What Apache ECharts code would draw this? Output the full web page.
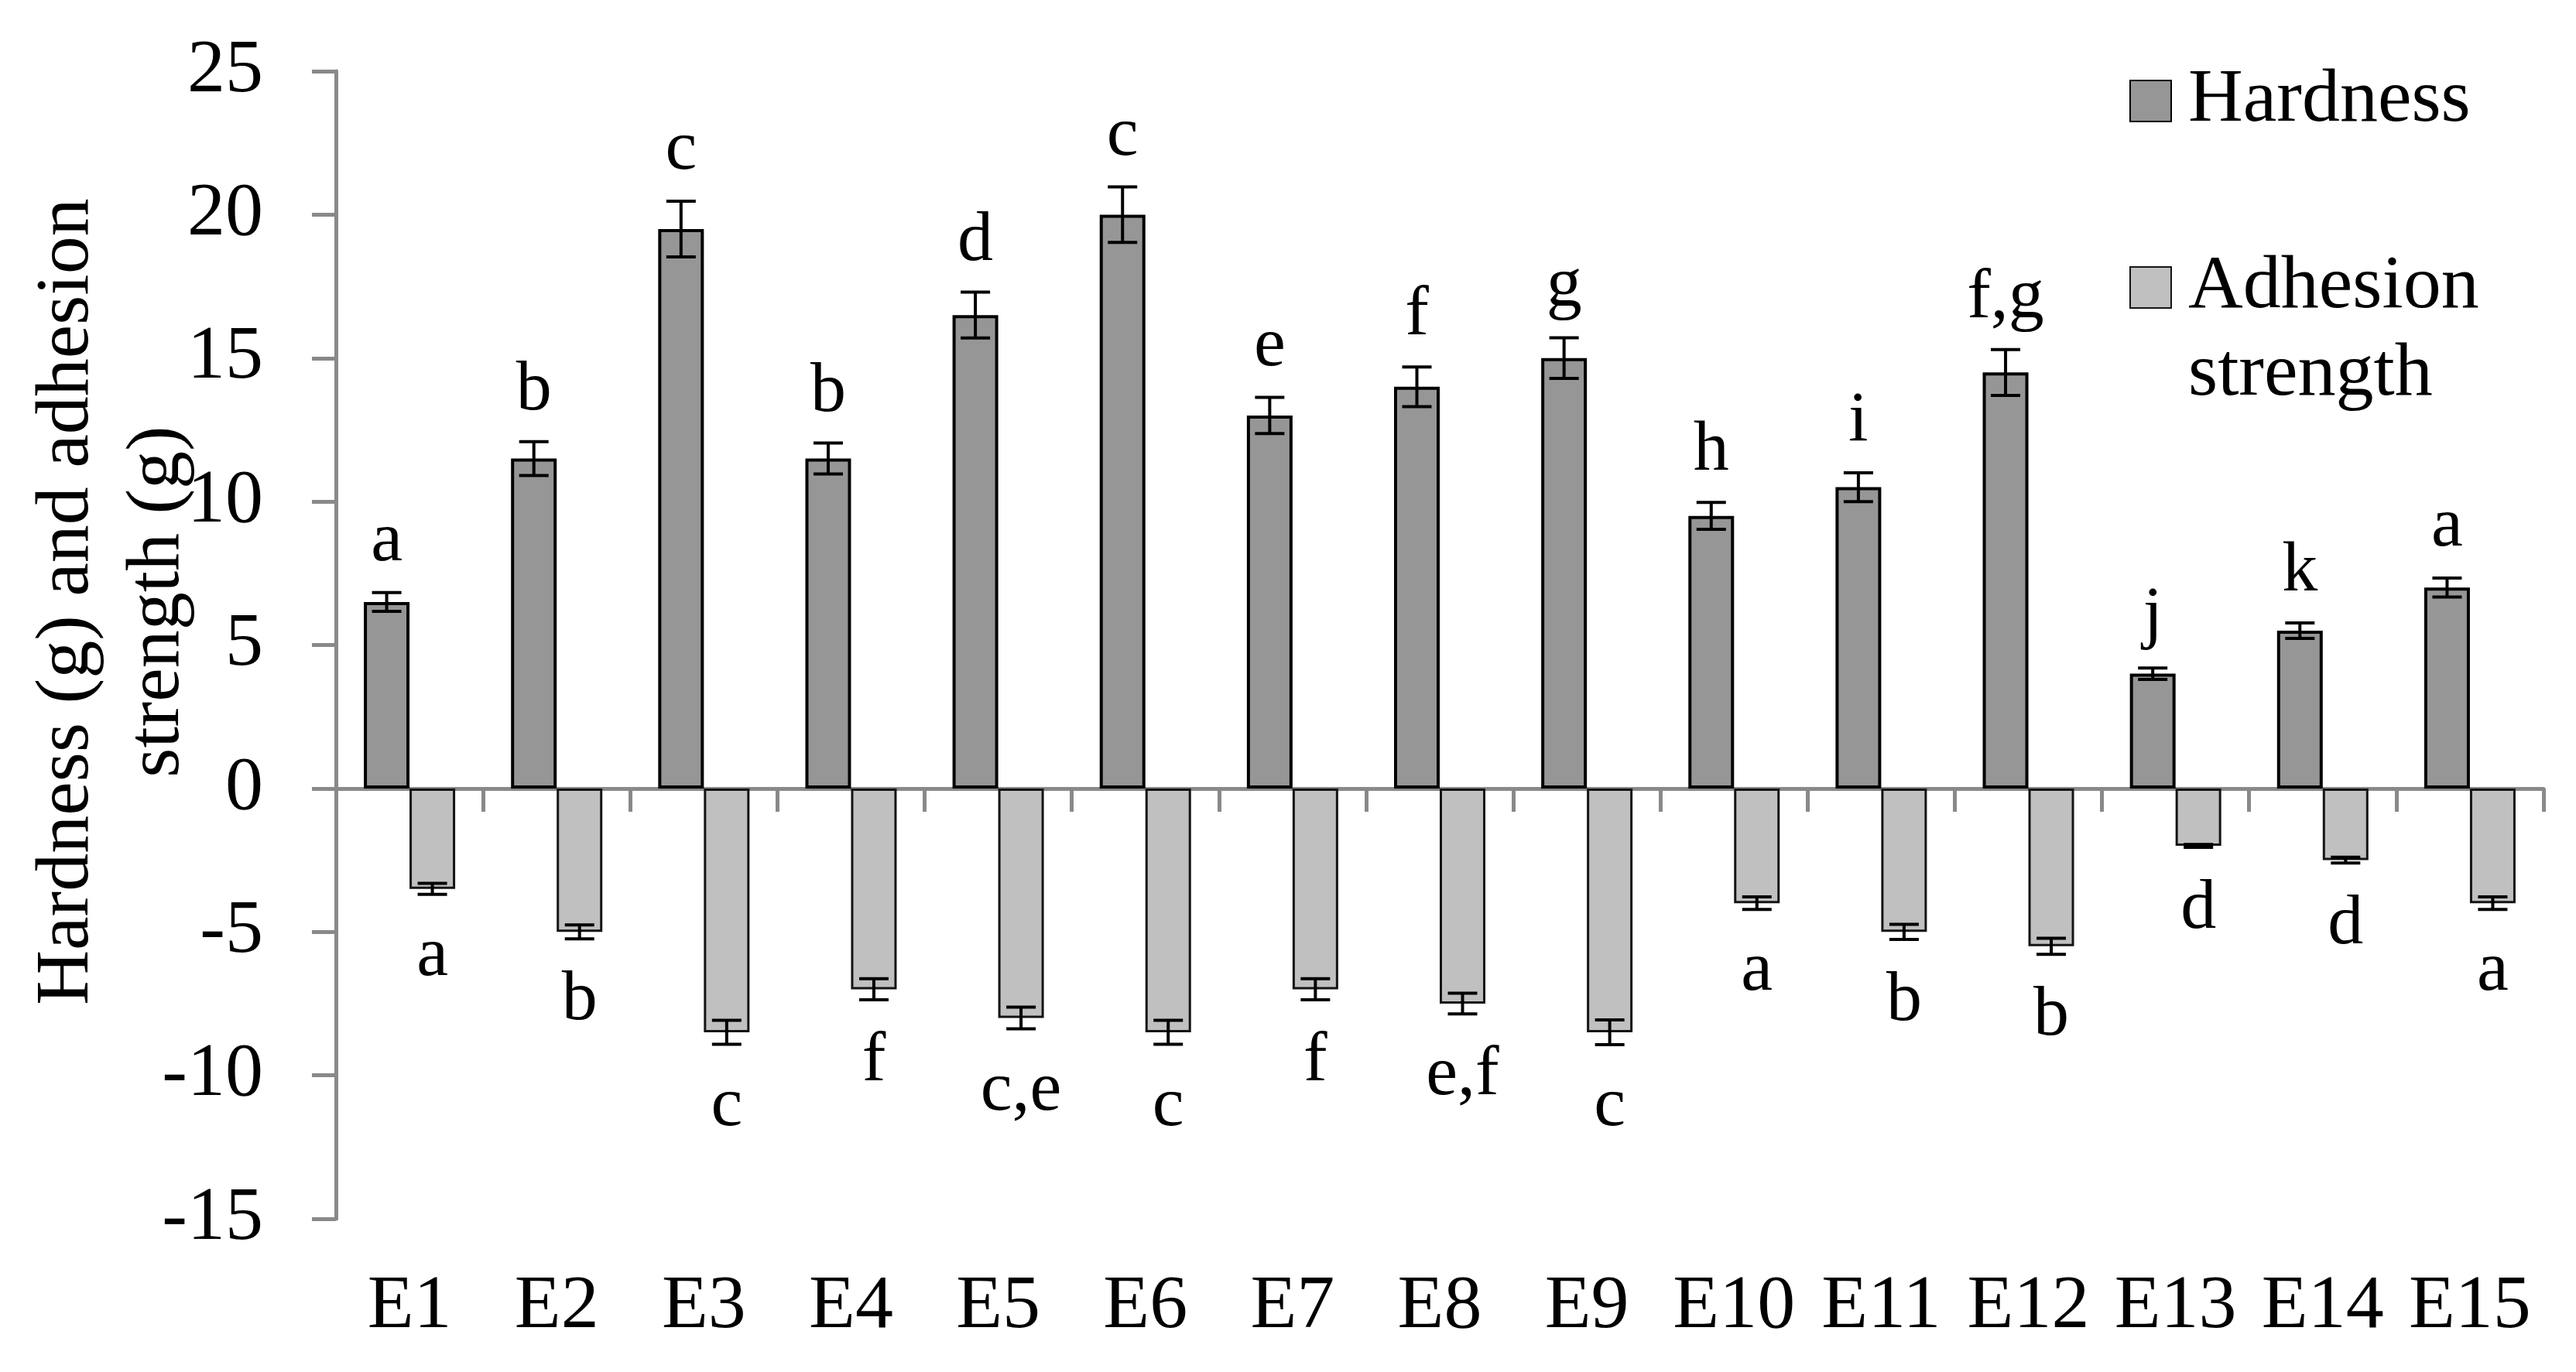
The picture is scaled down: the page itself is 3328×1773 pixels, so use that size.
<!DOCTYPE html>
<html>
<head>
<meta charset="utf-8">
<script src="https://cdn.jsdelivr.net/npm/echarts@6/dist/echarts.min.js"></script>
<style>
  html, body { margin: 0; padding: 0; background: #fff; }
  #chart { width: 3328px; height: 1773px; }
</style>
</head>
<body>
<div id="chart"></div>
<script>
  const categories = ['E1', 'E2', 'E3', 'E4', 'E5', 'E6', 'E7', 'E8', 'E9', 'E10', 'E11', 'E12', 'E13', 'E14', 'E15'];
  const hardness = [6.5, 11.5, 19.5, 11.5, 16.5, 20, 13, 14, 15, 9.5, 10.5, 14.5, 4, 5.5, 7];
  const hardnessErr = [0.33, 0.59, 0.97, 0.54, 0.8, 0.97, 0.63, 0.69, 0.71, 0.47, 0.5, 0.8, 0.2, 0.27, 0.33];
  const hardnessLetters = ['a', 'b', 'c', 'b', 'd', 'c', 'e', 'f', 'g', 'h', 'i', 'f,g', 'j', 'k', 'a'];
  const adhesion = [-3.5, -5, -8.5, -7, -8, -8.5, -7, -7.5, -8.5, -4, -5, -5.5, -2, -2.5, -4];
  const adhesionErr = [0.19, 0.24, 0.42, 0.37, 0.38, 0.42, 0.37, 0.36, 0.43, 0.22, 0.26, 0.28, 0.05, 0.1, 0.22];
  const adhesionLetters = ['a', 'b', 'c', 'f', 'c,e', 'c', 'f', 'e,f', 'c', 'a', 'b', 'b', 'd', 'd', 'a'];
  const yMin = -15, yMax = 25, yStep = 5;

  const FONT = 'Liberation Serif';
  const BAR_W = 59;

  // error bar + significance letter, drawn on top of one bar series
  function errorSeries(values, errs, letters, side) {
    return {
      type: 'custom',
      z: 5,
      silent: true,
      data: values.map((v, i) => [i, v, errs[i]]),
      renderItem(params, api) {
        const i = params.dataIndex;
        const v = api.value(1), e = api.value(2);
        const x = api.coord([i, 0])[0] + side * BAR_W / 2;
        const yHi = api.coord([i, v + e])[1];
        const yLo = api.coord([i, v - e])[1];
        const cap = 19;
        const ls = { stroke: '#000', lineWidth: 4 };
        const tipY = v >= 0 ? yHi - 66 : yLo + 80;
        return {
          type: 'group',
          children: [
            { type: 'line', shape: { x1: x, y1: yHi, x2: x, y2: yLo }, style: ls },
            { type: 'line', shape: { x1: x - cap, y1: yHi, x2: x + cap, y2: yHi }, style: ls },
            { type: 'line', shape: { x1: x - cap, y1: yLo, x2: x + cap, y2: yLo }, style: ls },
            {
              type: 'text',
              style: {
                x: x, y: tipY, text: letters[i],
                font: '92px "' + FONT + '"', fill: '#000',
                align: 'center', verticalAlign: 'middle'
              }
            }
          ]
        };
      }
    };
  }

  const legendText = { fontFamily: FONT, fontSize: 98, lineHeight: 113, color: '#000', padding: [0, 0, 0, 17] };

  const myChart = echarts.init(document.getElementById('chart'));
  myChart.setOption({
    backgroundColor: '#fff',
    animation: false,
    textStyle: { fontFamily: FONT, color: '#000' },
    grid: {
      left: 434,
      right: 42,
      top: 92,
      bottom: 198,
      outerBoundsMode: 'none'
    },
    legend: [
      {
        data: ['Hardness'],
        orient: 'vertical',
        left: 2751,
        top: 74,
        padding: 0,
        icon: 'rect',
        itemWidth: 53,
        itemHeight: 53,
        selectedMode: false,
        textStyle: legendText
      },
      {
        data: ['Adhesion strength'],
        orient: 'vertical',
        left: 2751,
        top: 202,
        padding: 0,
        icon: 'rect',
        itemWidth: 53,
        itemHeight: 53,
        selectedMode: false,
        // blank first line keeps "Adhesion" level with the swatch
        formatter: () => ' \nAdhesion\nstrength',
        textStyle: legendText
      }
    ],
    xAxis: [
      {
        type: 'category',
        data: categories,
        position: 'bottom',
        axisLine: { onZero: true, lineStyle: { color: '#898989', width: 5 } },
        axisTick: { show: true, length: 30, lineStyle: { color: '#898989', width: 5 } },
        axisLabel: { show: false },
        splitLine: { show: false }
      },
      {
        type: 'category',
        data: categories,
        position: 'bottom',
        axisLine: { show: false, onZero: false },
        axisTick: { show: false },
        axisLabel: { margin: 58, fontSize: 98, lineHeight: 113, color: '#000', fontFamily: FONT, interval: 0 },
        splitLine: { show: false }
      }
    ],
    yAxis: {
      type: 'value',
      min: yMin,
      max: yMax,
      interval: yStep,
      name: 'Hardness (g) and adhesion\nstrength (g)',
      nameLocation: 'middle',
      nameGap: 171,
      nameMoveOverlap: false,
      nameTextStyle: { fontFamily: FONT, fontSize: 98, lineHeight: 117, color: '#000', padding: [0, 0, 0, 112] },
      axisLine: { show: true, lineStyle: { color: '#898989', width: 5 } },
      axisTick: { show: true, length: 31, lineStyle: { color: '#898989', width: 5 } },
      axisLabel: { margin: 94, fontSize: 98, color: '#000', fontFamily: FONT },
      splitLine: { show: false }
    },
    series: [
      {
        name: 'Hardness',
        type: 'bar',
        data: hardness,
        barWidth: BAR_W,
        barGap: '0%',
        itemStyle: { color: '#969696', borderColor: '#000', borderWidth: 4 }
      },
      {
        name: 'Adhesion strength',
        type: 'bar',
        data: adhesion,
        barWidth: BAR_W,
        barGap: '0%',
        itemStyle: { color: '#c0c0c0', borderColor: '#141414', borderWidth: 3 }
      },
      errorSeries(hardness, hardnessErr, hardnessLetters, -1),
      errorSeries(adhesion, adhesionErr, adhesionLetters, 1)
    ]
  });
</script>
</body>
</html>
